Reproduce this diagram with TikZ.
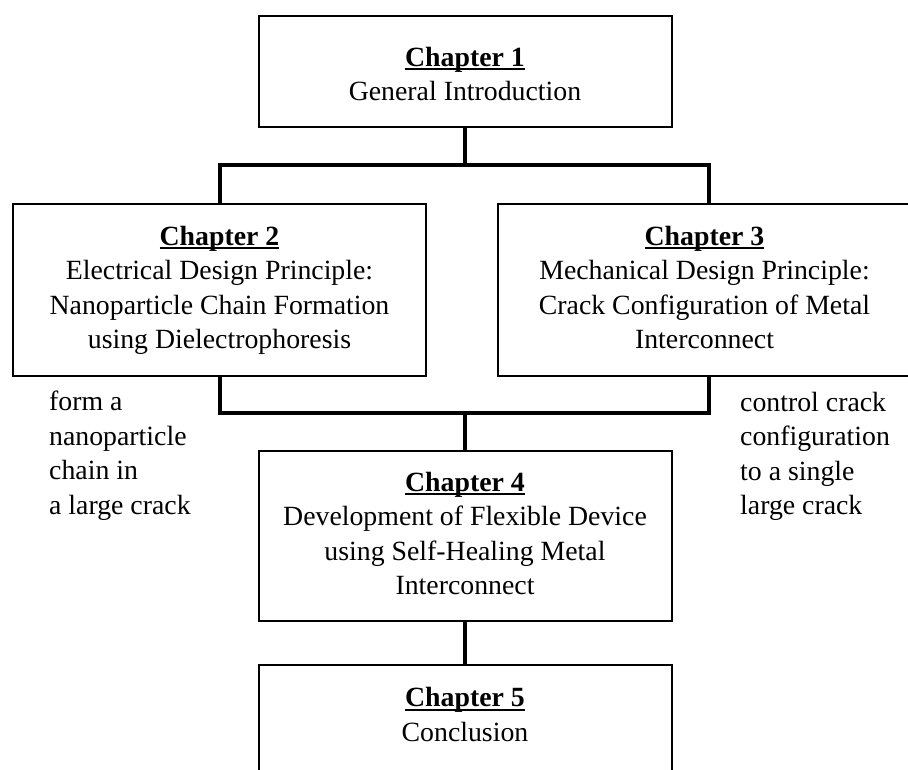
\documentclass[tikz,border=0pt]{standalone}
\usepackage{fontspec}
\setmainfont{Liberation Serif}
\newcommand\chapul[1]{\setbox0\hbox{#1}\rlap{\rule[-4pt]{\wd0}{1.8pt}}\box0\strut}
\tikzset{
  box/.style={draw=black, line width=2pt, rectangle, minimum width=413pt, align=center, inner sep=0pt,
    font=\fontsize{27.8}{34.5}\selectfont},
  conn/.style={draw=black, line width=4pt, line join=miter, line cap=rect},
  side/.style={align=left, inner sep=0pt, anchor=north west, font=\fontsize{27.8}{34.5}\selectfont},
}
\begin{document}
\begin{tikzpicture}[x=1pt, y=-1pt]
\useasboundingbox (0,0) rectangle (908,769);
\clip (0,0) rectangle (908,769);
\fill[white] (0,0) rectangle (908,769);

\node[box, minimum height=111pt] (b1) at (465,71.5) {\chapul{\textbf{Chapter 1}}\\General Introduction};
\node[box, minimum height=172pt] (b2) at (219.5,290) {\chapul{\textbf{Chapter 2}}\\Electrical Design Principle:\\Nanoparticle Chain Formation\\using Dielectrophoresis\strut};
\node[box, minimum height=172pt] (b3) at (704.5,290) {\chapul{\textbf{Chapter 3}}\\Mechanical Design Principle:\\Crack Configuration of Metal\\Interconnect\strut};
\node[box, minimum height=170pt] (b4) at (465,536) {\chapul{\textbf{Chapter 4}}\\Development of Flexible Device\\using Self-Healing Metal\\Interconnect\strut};
\node[box, minimum height=200pt, anchor=north] (b5) at (465,664) {};
\node[inner sep=0pt, align=center, font=\fontsize{27.8}{34.5}\selectfont] (t5) at (465,717) {\chapul{\textbf{Chapter 5}}\\Conclusion\strut};

\coordinate (s1) at (465,165);
\coordinate (l1) at (220,165);
\coordinate (r1) at (709,165);
\coordinate (l2) at (220,413);
\coordinate (m2) at (465,413);
\coordinate (r2) at (709,413);

\draw[conn] (b1.south) -- (s1);
\draw[conn] (l1 |- b2.north) -- (l1) -- (r1) -- (r1 |- b3.north);
\draw[conn] (l2 |- b2.south) -- (l2) -- (r2) -- (r2 |- b3.south);
\draw[conn] (m2) -- (b4.north);
\draw[conn] (b4.south) -- (b5.north);

\node[side] (tl) at (49,391) {form a\\nanoparticle\\chain in\\a large crack};
\node[side] (tr) at (740,392) {control crack\\configuration\\to a single\\large crack};
\end{tikzpicture}
\end{document}
